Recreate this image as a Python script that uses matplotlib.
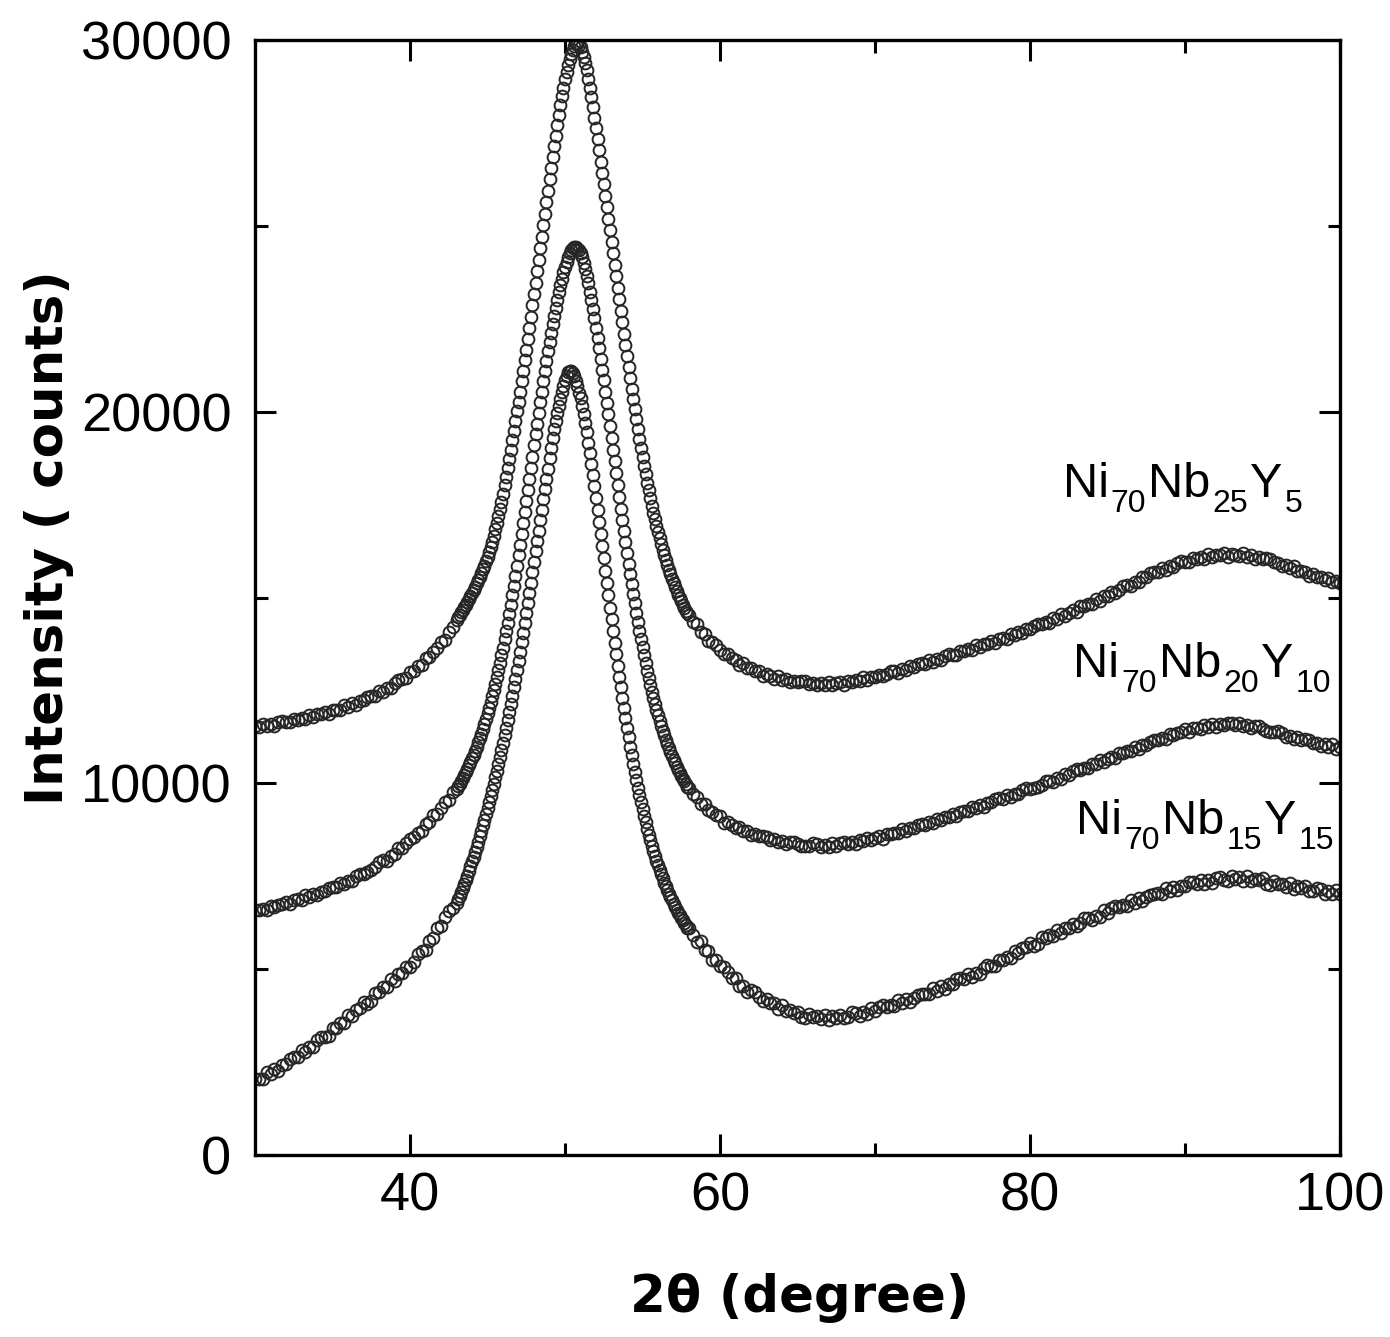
import numpy as np
import matplotlib
matplotlib.use('Agg')
import matplotlib.pyplot as plt
from matplotlib.transforms import offset_copy

plt.rcParams['font.family'] = ['Liberation Sans', 'DejaVu Sans']

# 2theta grid: 0.25 deg steps on the tails, 0.1 deg across the main halo
two_theta = np.round(np.concatenate([30 + 0.25 * np.arange(52),
                                     43 + 0.1 * np.arange(150),
                                     58 + 0.25 * np.arange(169)]), 2)

# Ni70Nb25Y5
nb25_low = [11550, 11515, 11595, 11530, 11585, 11550, 11645, 11685, 11645, 11645,
            11735, 11710, 11760, 11725, 11840, 11780, 11855, 11855, 11930, 11865,
            11975, 11985, 11975, 12095, 12060, 12155, 12115, 12215, 12235, 12335,
            12360, 12355, 12485, 12450, 12555, 12560, 12695, 12785, 12795, 12845,
            12995, 13030, 13150, 13175, 13370, 13390, 13545, 13645, 13810, 13845,
            14065, 14195]
nb25_peak = [14400, 14470, 14530, 14610, 14670, 14750, 14810, 14890, 14960, 15040,
             15110, 15200, 15280, 15380, 15460, 15560, 15650, 15760, 15860, 15970,
             16090, 16220, 16360, 16500, 16660, 16830, 17000, 17190, 17380, 17580,
             17790, 18020, 18250, 18490, 18730, 18980, 19230, 19490, 19750, 20010,
             20270, 20540, 20820, 21100, 21380, 21670, 21960, 22260, 22560, 22860,
             23160, 23470, 23780, 24090, 24400, 24710, 25020, 25330, 25640, 25950,
             26250, 26550, 26850, 27140, 27430, 27710, 27980, 28240, 28490, 28720,
             28940, 29140, 29320, 29480, 29620, 29740, 29830, 29880, 29900, 29870,
             29800, 29690, 29550, 29380, 29180, 28960, 28720, 28460, 28190, 27910,
             27620, 27330, 27030, 26730, 26430, 26120, 25810, 25500, 25190, 24880,
             24570, 24260, 23950, 23640, 23330, 23020, 22710, 22400, 22100, 21800,
             21500, 21200, 20910, 20620, 20340, 20060, 19790, 19530, 19270, 19020,
             18780, 18540, 18310, 18090, 17880, 17670, 17470, 17280, 17100, 16920,
             16750, 16590, 16430, 16280, 16140, 16000, 15870, 15740, 15620, 15500,
             15390, 15280, 15180, 15080, 14990, 14900, 14810, 14730, 14650, 14570]
nb25_high = [14530, 14335, 14285, 14080, 14005, 13840, 13815, 13735, 13585, 13485,
             13475, 13360, 13320, 13195, 13230, 13100, 13095, 13025, 13030, 12895,
             12935, 12885, 12815, 12875, 12780, 12815, 12715, 12755, 12715, 12755,
             12745, 12685, 12695, 12635, 12705, 12650, 12725, 12645, 12695, 12725,
             12655, 12760, 12735, 12775, 12750, 12850, 12775, 12860, 12860, 12925,
             12885, 12935, 13015, 13025, 12980, 13065, 13050, 13165, 13125, 13210,
             13240, 13215, 13315, 13260, 13345, 13320, 13425, 13475, 13455, 13465,
             13565, 13550, 13620, 13585, 13710, 13660, 13745, 13755, 13830, 13775,
             13885, 13905, 13895, 14025, 13990, 14085, 14045, 14145, 14155, 14245,
             14285, 14275, 14335, 14315, 14445, 14430, 14545, 14505, 14585, 14655,
             14615, 14760, 14765, 14835, 14830, 14960, 14915, 15030, 15050, 15145,
             15125, 15195, 15305, 15345, 15320, 15425, 15430, 15565, 15545, 15650,
             15690, 15685, 15795, 15750, 15835, 15820, 15925, 15985, 15955, 15965,
             16065, 16040, 16090, 16045, 16160, 16090, 16145, 16135, 16190, 16095,
             16175, 16155, 16105, 16185, 16100, 16145, 16045, 16085, 16035, 16065,
             16035, 15955, 15935, 15845, 15885, 15800, 15835, 15705, 15715, 15695,
             15585, 15640, 15565, 15555, 15480, 15530, 15405, 15440, 15390]

# Ni70Nb20Y10
nb20_low = [6595, 6580, 6630, 6595, 6710, 6660, 6735, 6745, 6820, 6755,
            6865, 6875, 6865, 6985, 6940, 7035, 6985, 7085, 7105, 7195,
            7220, 7205, 7325, 7280, 7375, 7370, 7495, 7565, 7565, 7605,
            7665, 7745, 7875, 7925, 7920, 8055, 8090, 8255, 8265, 8400,
            8505, 8555, 8665, 8715, 8895, 8950, 9135, 9165, 9335, 9485,
            9545, 9780]
nb20_peak = [9850, 9920, 9990, 10060, 10140, 10220, 10300, 10390, 10480, 10570,
             10670, 10770, 10880, 10990, 11100, 11220, 11340, 11470, 11600, 11740,
             11880, 12030, 12180, 12340, 12510, 12680, 12860, 13050, 13240, 13440,
             13650, 13870, 14090, 14320, 14560, 14810, 15060, 15320, 15590, 15860,
             16140, 16420, 16710, 17000, 17290, 17590, 17890, 18190, 18490, 18790,
             19090, 19390, 19680, 19970, 20260, 20540, 20820, 21090, 21360, 21620,
             21870, 22110, 22350, 22580, 22800, 23010, 23210, 23400, 23580, 23750,
             23900, 24040, 24160, 24260, 24340, 24400, 24430, 24420, 24390, 24340,
             24260, 24150, 24010, 23850, 23660, 23450, 23230, 23000, 22760, 22510,
             22250, 21980, 21700, 21420, 21130, 20840, 20540, 20240, 19930, 19620,
             19300, 18980, 18660, 18340, 18020, 17700, 17390, 17080, 16780, 16480,
             16190, 15910, 15630, 15360, 15100, 14840, 14590, 14350, 14110, 13880,
             13660, 13440, 13230, 13030, 12840, 12650, 12470, 12300, 12140, 11980,
             11830, 11690, 11550, 11420, 11290, 11170, 11050, 10940, 10830, 10730,
             10630, 10540, 10450, 10360, 10280, 10200, 10120, 10050, 9980, 9910]
nb20_high = [9885, 9710, 9620, 9445, 9440, 9270, 9235, 9135, 9110, 8945,
             8965, 8885, 8795, 8835, 8710, 8725, 8605, 8625, 8575, 8595,
             8550, 8465, 8515, 8410, 8435, 8360, 8415, 8425, 8355, 8325,
             8315, 8325, 8385, 8355, 8280, 8335, 8290, 8385, 8325, 8390,
             8415, 8375, 8415, 8375, 8475, 8440, 8535, 8465, 8525, 8575,
             8515, 8640, 8625, 8675, 8660, 8770, 8705, 8800, 8800, 8875,
             8905, 8890, 8960, 8925, 9050, 9010, 9085, 9105, 9180, 9125,
             9235, 9255, 9245, 9375, 9330, 9425, 9375, 9475, 9495, 9575,
             9600, 9585, 9685, 9640, 9725, 9700, 9815, 9875, 9845, 9865,
             9905, 9965, 10055, 10075, 10040, 10135, 10130, 10255, 10225, 10320,
             10375, 10365, 10425, 10405, 10525, 10510, 10625, 10575, 10655, 10715,
             10675, 10810, 10805, 10865, 10860, 10980, 10925, 11030, 11040, 11125,
             11165, 11160, 11230, 11205, 11330, 11290, 11365, 11375, 11450, 11385,
             11485, 11485, 11465, 11575, 11520, 11585, 11515, 11585, 11575, 11635,
             11620, 11565, 11635, 11540, 11575, 11500, 11555, 11555, 11465, 11415,
             11385, 11375, 11405, 11355, 11250, 11275, 11200, 11255, 11155, 11180,
             11165, 11095, 11085, 11005, 11065, 10990, 11045, 10935, 10965]

# Ni70Nb15Y15
nb15_low = [2035, 2055, 2050, 2230, 2170, 2310, 2255, 2415, 2440, 2590,
            2645, 2635, 2820, 2760, 2910, 2895, 3090, 3185, 3175, 3215,
            3405, 3425, 3550, 3540, 3775, 3745, 3900, 3955, 4110, 4060,
            4150, 4370, 4395, 4510, 4525, 4735, 4680, 4860, 4905, 5065,
            5045, 5185, 5395, 5500, 5525, 5750, 5830, 6110, 6165, 6395,
            6570, 6640]
nb15_peak = [6790, 6880, 6980, 7080, 7180, 7290, 7400, 7520, 7640, 7770,
             7900, 8030, 8160, 8290, 8430, 8570, 8720, 8870, 9020, 9170,
             9330, 9490, 9650, 9820, 9990, 10160, 10340, 10520, 10710, 10900,
             11090, 11290, 11490, 11700, 11910, 12130, 12350, 12580, 12810, 13050,
             13290, 13540, 13790, 14050, 14310, 14580, 14850, 15120, 15400, 15680,
             15960, 16240, 16520, 16800, 17080, 17360, 17640, 17910, 18180, 18450,
             18750, 19030, 19290, 19530, 19750, 19960, 20160, 20350, 20530, 20700,
             20850, 20970, 21060, 21100, 21090, 21040, 20950, 20830, 20680, 20500,
             20360, 20160, 19940, 19700, 19440, 19170, 18890, 18600, 18300, 17990,
             17680, 17360, 17040, 16710, 16380, 16050, 15720, 15390, 15060, 14730,
             14410, 14090, 13780, 13470, 13170, 12870, 12580, 12300, 12020, 11750,
             11490, 11240, 10990, 10750, 10520, 10300, 10090, 9880, 9680, 9490,
             9300, 9120, 8950, 8780, 8620, 8470, 8320, 8180, 8050, 7920,
             7790, 7670, 7550, 7440, 7330, 7230, 7130, 7030, 6940, 6850,
             6760, 6680, 6600, 6520, 6450, 6380, 6310, 6240, 6180, 6120]
nb15_high = [6095, 5925, 5740, 5750, 5520, 5480, 5255, 5235, 5090, 5070,
             4935, 4765, 4770, 4560, 4550, 4395, 4440, 4395, 4245, 4155,
             4205, 4085, 4080, 3930, 4025, 3865, 3890, 3825, 3860, 3700,
             3680, 3800, 3715, 3730, 3655, 3775, 3630, 3730, 3695, 3775,
             3675, 3725, 3835, 3830, 3735, 3840, 3790, 3950, 3865, 3975,
             4030, 3980, 4045, 4000, 4160, 4090, 4200, 4125, 4225, 4295,
             4335, 4345, 4320, 4490, 4420, 4540, 4475, 4605, 4610, 4740,
             4755, 4725, 4870, 4790, 4910, 4875, 5040, 5115, 5075, 5095,
             5255, 5245, 5340, 5300, 5495, 5435, 5560, 5585, 5710, 5620,
             5670, 5860, 5845, 5920, 5905, 6065, 5970, 6110, 6115, 6225,
             6165, 6235, 6365, 6390, 6315, 6440, 6410, 6580, 6515, 6635,
             6700, 6660, 6735, 6700, 6870, 6790, 6910, 6835, 6935, 7005,
             7035, 7045, 7020, 7180, 7100, 7210, 7125, 7245, 7240, 7340,
             7345, 7285, 7410, 7300, 7390, 7315, 7450, 7485, 7405, 7385,
             7495, 7435, 7480, 7370, 7515, 7385, 7430, 7395, 7440, 7280,
             7260, 7380, 7295, 7300, 7215, 7315, 7150, 7230, 7175, 7225,
             7105, 7115, 7195, 7150, 7025, 7100, 7010, 7130, 7015]

# (chemical formula as (element, subscript) pairs, counts, label anchor in data units)
samples = [
    ([('Ni', '70'), ('Nb', '25'), ('Y', '5')], nb25_low + nb25_peak + nb25_high, (82.1, 17700)),
    ([('Ni', '70'), ('Nb', '20'), ('Y', '10')], nb20_low + nb20_peak + nb20_high, (82.8, 12860)),
    ([('Ni', '70'), ('Nb', '15'), ('Y', '15')], nb15_low + nb15_peak + nb15_high, (83.0, 8640)),
]

fig = plt.figure(figsize=(13.9, 13.37), dpi=100)
ax = fig.add_axes([255 / 1390, 1 - 1155 / 1337, 1085 / 1390, 1115 / 1337])
renderer = fig.canvas.get_renderer()


def put_formula(x, y, pairs, size=35, sub_size=23, drop=11):
    # lay out element symbols and their subscripts one after another
    dx = 0.0
    for element, sub in pairs:
        for piece, fs, dy in ((element, size, 0), (sub, sub_size, -drop)):
            tr = offset_copy(ax.transData, fig=fig, x=dx, y=dy, units='points')
            t = ax.text(x, y, piece, fontsize=fs, transform=tr,
                        ha='left', va='baseline')
            dx += t.get_window_extent(renderer).width * 72 / fig.dpi + 1.5


for pairs, counts, (tx, ty) in samples:
    ax.plot(two_theta, counts, ls='none', marker='o', ms=8.5,
            mfc='none', mec='#262626', mew=1.4)
    put_formula(tx, ty, pairs)

ax.set_xlim(30, 100)
ax.set_ylim(0, 30000)
ax.set_xticks([40, 60, 80, 100])
ax.set_xticks([50, 70, 90], minor=True)
ax.set_yticks([0, 10000, 20000, 30000])
ax.set_yticks([5000, 15000, 25000], minor=True)
ax.tick_params(which='both', direction='in', top=True, right=True,
               width=2.2, labelsize=39)
ax.tick_params(which='major', length=15)
ax.tick_params(which='minor', length=9)
ax.tick_params(axis='x', pad=12)
ax.tick_params(axis='y', pad=17)
for sp in ax.spines.values():
    sp.set_linewidth(2.4)

ax.set_xlabel('2θ (degree)', fontsize=37, fontweight='bold',
              family='DejaVu Sans', va='center')
ax.xaxis.set_label_coords(0.502, -0.128)
ax.set_ylabel('Intensity ( counts)', fontsize=37, fontweight='bold',
              family='DejaVu Sans', va='center')
ax.yaxis.set_label_coords(-0.19, 0.554)

fig.savefig('out.png', dpi=100)
